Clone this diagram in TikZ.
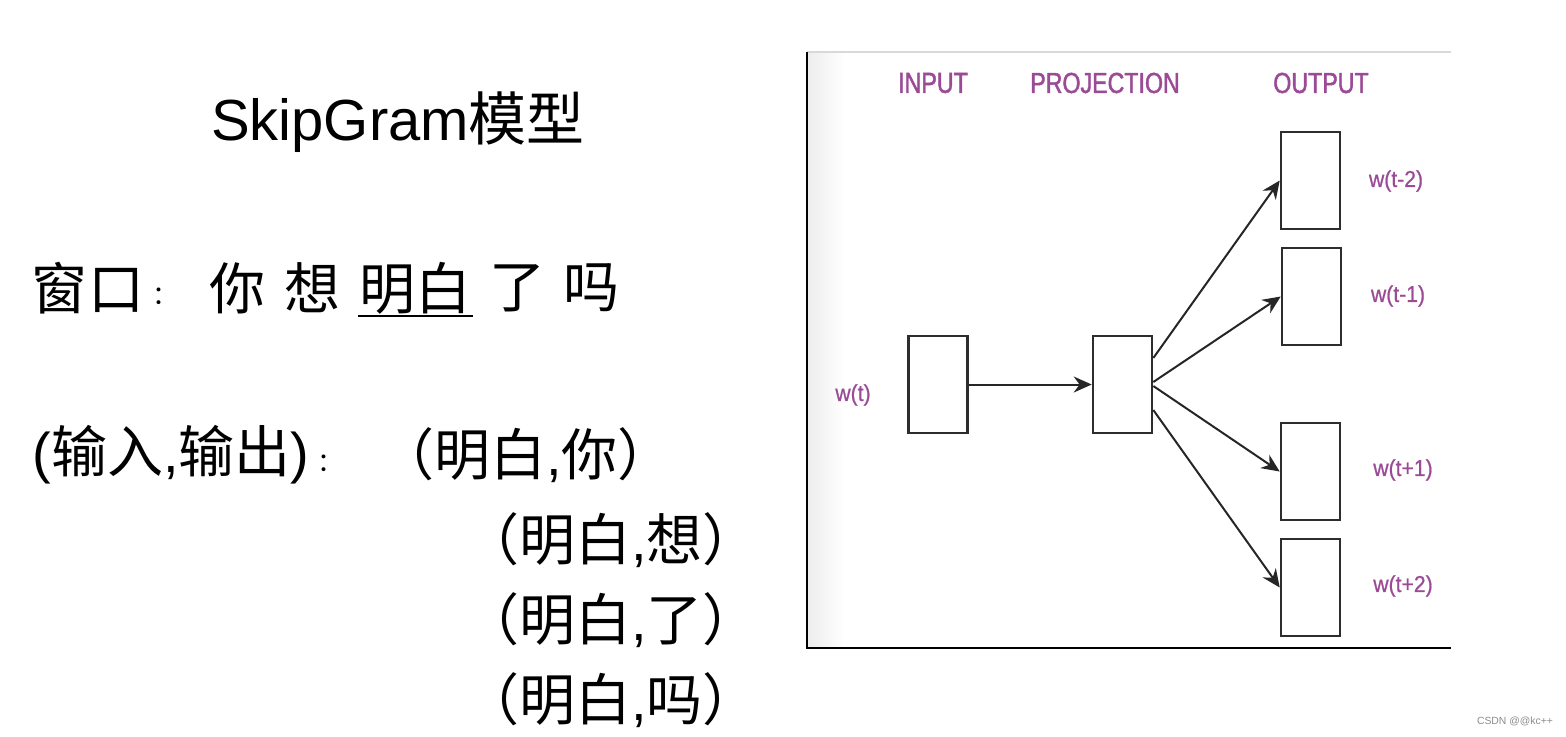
\documentclass[tikz,border=0pt]{standalone}
\usepackage{fontspec}
\setmainfont{Liberation Sans}
\newfontfamily\cjk{Noto Sans CJK SC}
\newfontfamily\narrowf[FakeStretch=0.8,FakeBold=1.5]{Liberation Sans}
\newfontfamily\lblf[FakeStretch=0.92,FakeBold=0.8]{Liberation Sans}
\usetikzlibrary{arrows.meta}
\definecolor{lblpurple}{RGB}{155,75,150}
\definecolor{boxgray}{RGB}{45,45,45}
\begin{document}
\begin{tikzpicture}[x=0.5pt,y=-0.5pt,
  big/.style={inner sep=0pt,font=\fontsize{28}{32}\selectfont\cjk},
  colonsty/.style={inner sep=0pt,font=\fontsize{13}{15}\selectfont\cjk},
  head/.style={inner sep=0pt,text=lblpurple,font=\fontsize{14.5}{16}\selectfont\narrowf},
  wlbl/.style={inner sep=0pt,text=lblpurple,font=\fontsize{11.5}{13}\selectfont\lblf},
  vec/.style={draw=boxgray,line width=1.3pt,fill=white,rectangle,inner sep=0pt,minimum width=29.5pt,minimum height=48.5pt},
  conn/.style={draw=black!85,line width=1pt,-{Stealth[length=9pt,width=8pt]}}]
\useasboundingbox (0,0) rectangle (1566,736);
% ---- left text ----
\node[inner sep=0pt,font=\fontsize{29}{33}\selectfont] (title) at (398,122) {SkipGram{\cjk 模型}};
\node[big] (win) at (88,288) {窗口};
\node[colonsty] (wc) at (165,296) {：};
\node[big] (w1) at (237,288) {你};
\node[big] (w2) at (312,288) {想};
\node[big] (w3) at (415,288) {明白};
\node[big] (w4) at (517,288) {了};
\node[big] (w5) at (591,288) {吗};
\coordinate (ul1) at (358,316);
\coordinate (ul2) at (473,316);
\draw[line width=1.1pt] (ul1) -- (ul2);
\node[inner sep=0pt,font=\fontsize{28}{32}\selectfont] (io) at (171,455) {({\cjk 输入},{\cjk 输出})};
\node[colonsty] (ioc) at (330,463) {：};
\node[big] (p1) at (526,455) {（明白{\fontspec{Liberation Sans},}你）};
\node[big] (p2) at (611,540) {（明白{\fontspec{Liberation Sans},}想）};
\node[big] (p3) at (611,620) {（明白{\fontspec{Liberation Sans},}了）};
\node[big] (p4) at (611,700) {（明白{\fontspec{Liberation Sans},}吗）};
% ---- diagram frame ----
\shade[left color=black!7,right color=white] (808,52) rectangle (845,648);
\coordinate (ftl) at (807,52);
\coordinate (ftr) at (1451,52);
\coordinate (fbl) at (807,648);
\coordinate (fbr) at (1451,648);
\draw[black!15,line width=0.6pt] (ftl) -- (ftr);
\draw[black,line width=0.7pt] (ftl) -- (fbl) -- (fbr);
\node[head] (hin) at (933,83) {INPUT};
\node[head] (hpr) at (1105,83) {PROJECTION};
\node[head] (hout) at (1321,83) {OUTPUT};
\node[vec] (in) at (938,384.5) {};
\node[vec] (proj) at (1122.5,384.5) {};
\node[vec] (o1) at (1310.5,180.5) {};
\node[vec] (o2) at (1311.5,296.5) {};
\node[vec] (o3) at (1310.5,471.5) {};
\node[vec] (o4) at (1310.5,587.5) {};
\node[wlbl] (lt) at (853,395) {w(t)};
\node[wlbl] (l1) at (1396,181) {w(t-2)};
\node[wlbl] (l2) at (1398,296) {w(t-1)};
\node[wlbl] (l3) at (1403,470) {w(t+1)};
\node[wlbl] (l4) at (1403,586) {w(t+2)};
\draw[conn] (in.east) -- (proj.west);
\draw[conn] ([yshift=13.25pt]proj.east) -- (o1.west);
\draw[conn] ([yshift=1.25pt]proj.east) -- (o2.west);
\draw[conn] ([yshift=-0.75pt]proj.east) -- (o3.west);
\draw[conn] ([yshift=-12.75pt]proj.east) -- (o4.west);
% watermark
\node[inner sep=0pt,text=black!45,font=\fontsize{5.2}{6}\selectfont] (wm) at (1515,721) {CSDN @@kc++};
\end{tikzpicture}
\end{document}
